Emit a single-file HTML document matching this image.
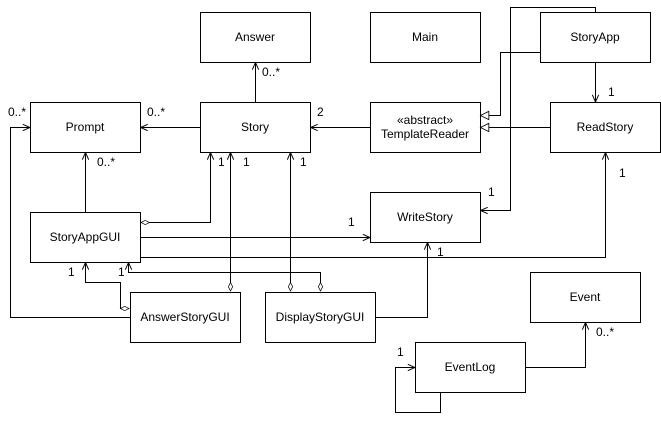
<!DOCTYPE html>
<html><head><style>body{margin:0;background:#fff}svg{display:block}text{font-family:"Liberation Sans",Arial,sans-serif;font-size:12px;fill:#000}</style></head>
<body>
<svg width="661" height="421" viewBox="0 0 661 421" xmlns="http://www.w3.org/2000/svg">
<defs>
<marker id="op" viewBox="0 0 10 10" refX="10" refY="5" markerWidth="8" markerHeight="8" orient="auto" markerUnits="userSpaceOnUse"><path d="M1,1 L10,5 L1,9" fill="none" stroke="#000" stroke-width="1.2"/></marker>
<marker id="tri" viewBox="0 0 12 12" refX="11" refY="6" markerWidth="10" markerHeight="10" orient="auto" markerUnits="userSpaceOnUse"><path d="M1,1 L11,6 L1,11 Z" fill="#fff" stroke="#000"/></marker>
<marker id="dia" viewBox="0 0 14 8" refX="1" refY="4" markerWidth="10" markerHeight="6" orient="auto" markerUnits="userSpaceOnUse"><path d="M1,4 L7,1 L13,4 L7,7 Z" fill="#fff" stroke="#000"/></marker>
</defs>
<g fill="#fff" stroke="#000">
<rect x="200.5" y="12.5" width="110" height="50"/>
<rect x="370.5" y="12.5" width="110" height="50"/>
<rect x="540.5" y="12.5" width="110" height="50"/>
<rect x="30.5" y="102.5" width="110" height="50"/>
<rect x="200.5" y="102.5" width="110" height="50"/>
<rect x="370.5" y="102.5" width="110" height="50"/>
<rect x="550.5" y="102.5" width="110" height="50"/>
<rect x="30.5" y="212.5" width="110" height="50"/>
<rect x="370.5" y="192.5" width="110" height="50"/>
<rect x="130.5" y="292.5" width="110" height="50"/>
<rect x="265.5" y="292.5" width="110" height="50"/>
<rect x="530.5" y="272.5" width="110" height="50"/>
<rect x="415.5" y="342.5" width="110" height="50"/>
</g>
<g text-anchor="middle">
<text x="255" y="41">Answer</text>
<text x="425" y="41">Main</text>
<text x="595" y="41">StoryApp</text>
<text x="85" y="131">Prompt</text>
<text x="255" y="131">Story</text>
<text x="425" y="124">«abstract»</text>
<text x="425" y="138">TemplateReader</text>
<text x="605" y="131">ReadStory</text>
<text x="85" y="241">StoryAppGUI</text>
<text x="425" y="221">WriteStory</text>
<text x="185" y="321">AnswerStoryGUI</text>
<text x="320" y="321">DisplayStoryGUI</text>
<text x="585" y="301">Event</text>
<text x="470" y="371">EventLog</text>
</g>
<g fill="none" stroke="#000">
<path d="M255.5,102 V62.5" marker-end="url(#op)"/>
<path d="M200,127.5 H140.5" marker-end="url(#op)"/>
<path d="M370,127.5 H310.5" marker-end="url(#op)"/>
<path d="M540,52.5 H500.5 V115.5 H480.5" marker-end="url(#tri)"/>
<path d="M550,127.5 H480.5" marker-end="url(#tri)"/>
<path d="M595.5,62 V102" marker-end="url(#op)"/>
<path d="M595.5,12 V7.5 H510.5 V210.5 H480.5" marker-end="url(#op)"/>
<path d="M85.5,212 V152.5" marker-end="url(#op)"/>
<path d="M150,222.5 H210.5 V152.5" marker-end="url(#op)"/>
<path d="M141,222.5 H150" marker-start="url(#dia)"/>
<path d="M140,237.5 H370" marker-end="url(#op)"/>
<path d="M140,257.5 H605.5 V152.5" marker-end="url(#op)"/>
<path d="M375,317.5 H427.5 V242.5" marker-end="url(#op)"/>
<path d="M230.5,282 V152.5" marker-end="url(#op)"/>
<path d="M230.5,291 V282" marker-start="url(#dia)"/>
<path d="M290.5,282 V152.5" marker-end="url(#op)"/>
<path d="M290.5,291 V282" marker-start="url(#dia)"/>
<path d="M320.5,282 V272.5 H128.5 V262.5" marker-end="url(#op)"/>
<path d="M320.5,291 V282" marker-start="url(#dia)"/>
<path d="M120,308.5 H120.5 V282.5 H85.5 V262.5" marker-end="url(#op)"/>
<path d="M129,308.5 H120" marker-start="url(#dia)"/>
<path d="M130,317.5 H10.5 V127.5 H30" marker-end="url(#op)"/>
<path d="M525,367.5 H585.5 V322.5" marker-end="url(#op)"/>
<path d="M440.5,392 V412.5 H395.5 V367.5 H415" marker-end="url(#op)"/>
</g>
<g>
<text x="262" y="76">0..*</text>
<text x="147" y="116">0..*</text>
<text x="317" y="116">2</text>
<text x="8" y="116">0..*</text>
<text x="97" y="166">0..*</text>
<text x="218" y="166">1</text>
<text x="243" y="166">1</text>
<text x="300" y="166">1</text>
<text x="608" y="96">1</text>
<text x="619" y="177">1</text>
<text x="488" y="196">1</text>
<text x="348" y="226">1</text>
<text x="437" y="256">1</text>
<text x="68" y="276">1</text>
<text x="118" y="276">1</text>
<text x="596" y="336">0..*</text>
<text x="397" y="356">1</text>
</g>
</svg>
</body></html>
